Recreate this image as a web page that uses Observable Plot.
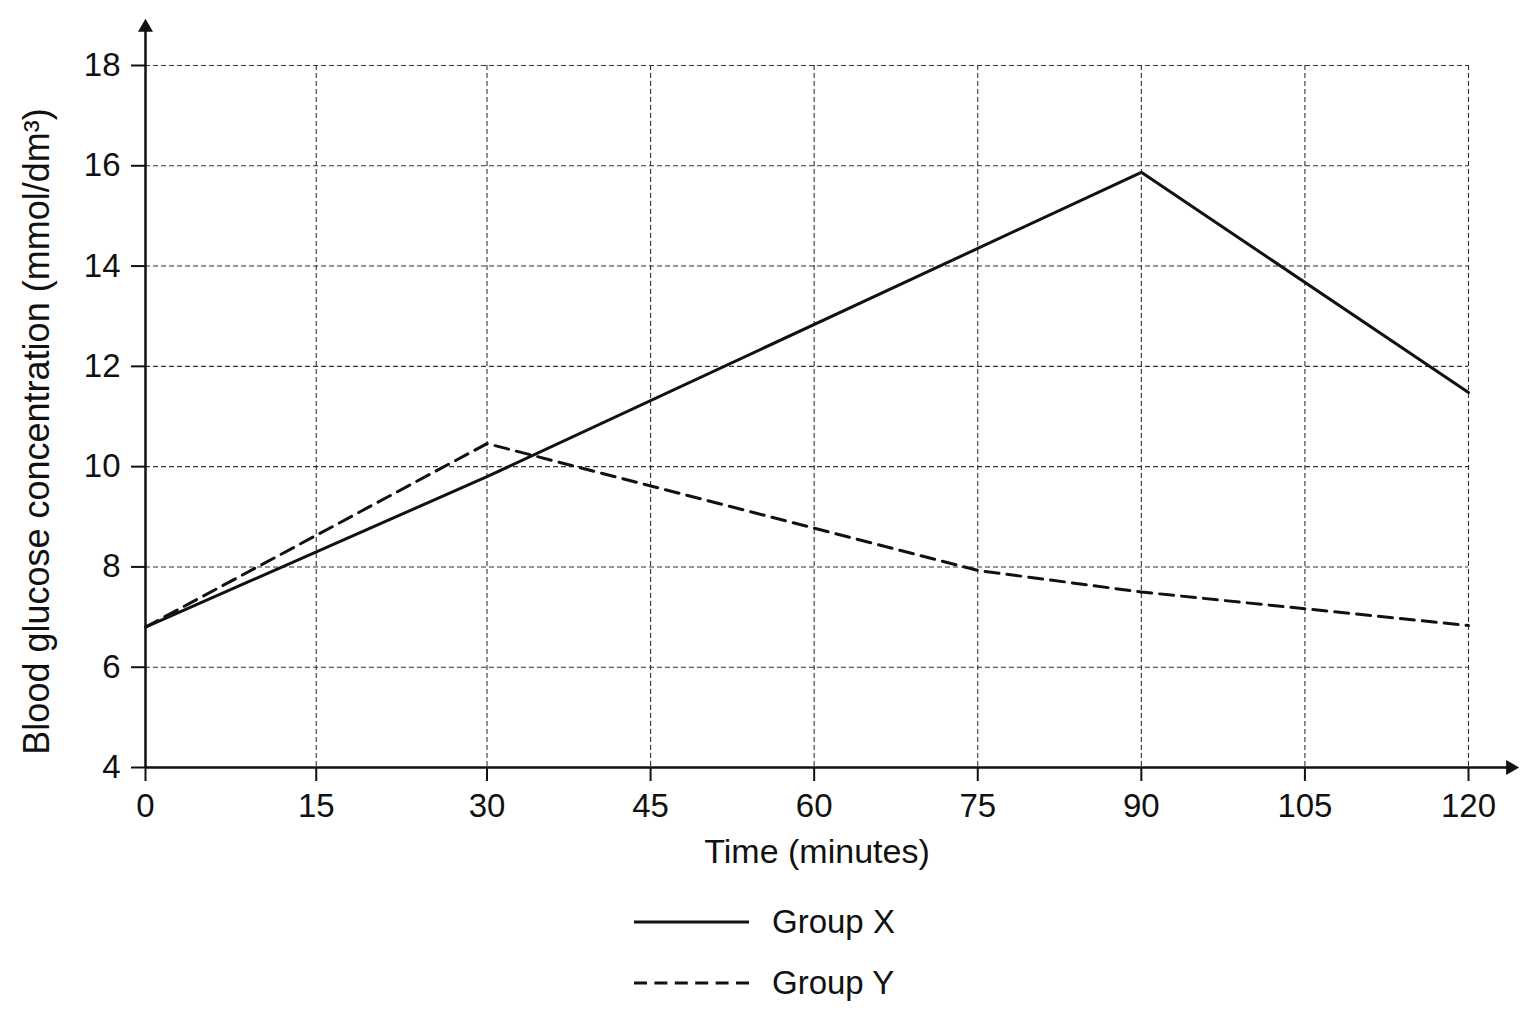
<!DOCTYPE html>
<html><head><meta charset="utf-8">
<script src="https://cdn.jsdelivr.net/npm/d3@7"></script>
<script src="https://cdn.jsdelivr.net/npm/@observablehq/plot@0.6"></script>
<style>
body{margin:0;background:#fff;font-family:"Liberation Sans",Arial,sans-serif;}
#chart{position:relative;width:1536px;height:1024px;background:#fff;}
#chart > svg{position:absolute;left:0;top:0;}
#legend{position:absolute;left:634px;top:891px;}
.row{display:flex;align-items:center;height:61px;font-size:33px;color:#111;}
.row svg{margin-right:23px;display:block}
</style></head><body>
<div id="chart"><div id="legend"></div></div>
<script>
// Data
const timesX = [0, 30, 90, 120];
const glucoseX = [6.8, 9.8, 15.87, 11.48];
const timesY = [0, 30, 75, 90, 120];
const glucoseY = [6.8, 10.46, 7.93, 7.5, 6.83];

const xTicks = [0, 15, 30, 45, 60, 75, 90, 105, 120];
const yTicks = [4, 6, 8, 10, 12, 14, 16, 18];
const xLabel = "Time (minutes)";
const yLabel = "Blood glucose concentration (mmol/dm³)";
const seriesNames = ["Group X", "Group Y"];
const xAxisEnd = 123.85;   // arrow extends past the last tick
const yAxisEnd = 18.76;

const dataX = timesX.map((t, i) => ({time: t, glucose: glucoseX[i]}));
const dataY = timesY.map((t, i) => ({time: t, glucose: glucoseY[i]}));

const font = '"Liberation Sans", Arial, sans-serif';

// The reference's time axis is drawn slightly wider for 0–30 than for 30–120
const xScaleDomain = [0, 30, 120];
const xScaleRange = [145, 486.5, 1468];

const chart = Plot.plot({
  width: 1536,
  height: 880,
  marginLeft: 145,
  marginRight: 68,
  marginTop: 65,
  marginBottom: 113,
  x: {type: "linear", domain: xScaleDomain, range: xScaleRange},
  y: {domain: [4, 18]},
  style: {fontFamily: font, fontSize: "33px", color: "#111", background: "white"},
  marks: [
    Plot.gridX(xTicks.slice(1), {stroke: "#333", strokeOpacity: 1, strokeWidth: 1.1, strokeDasharray: "5,3"}),
    Plot.gridY(yTicks.slice(1), {stroke: "#333", strokeOpacity: 1, strokeWidth: 1.1, strokeDasharray: "5,3"}),
    Plot.axisX(xTicks, {tickSize: 14, tickPadding: 12, strokeWidth: 2, label: null, fontSize: 33, tickFormat: d3.format("d")}),
    Plot.axisY(yTicks, {tickSize: 14, tickPadding: 11, strokeWidth: 2, label: null, fontSize: 33, tickFormat: d3.format("d")}),
    Plot.ruleY([4], {x1: 0, x2: xAxisEnd, stroke: "#111", strokeWidth: 2.5}),
    Plot.ruleX([0], {y1: 4, y2: yAxisEnd, stroke: "#111", strokeWidth: 2.5}),
    Plot.dot([{x: xAxisEnd, y: 4}], {x: "x", y: "y", symbol: "triangle", rotate: 90, r: 5.6, fill: "#111", stroke: null}),
    Plot.dot([{x: 0, y: yAxisEnd}], {x: "x", y: "y", symbol: "triangle", rotate: 0, r: 5.6, fill: "#111", stroke: null}),
    Plot.line(dataX, {x: "time", y: "glucose", stroke: "#111", strokeWidth: 3}),
    Plot.line(dataY, {x: "time", y: "glucose", stroke: "#111", strokeWidth: 3, strokeDasharray: "14,8"}),
    Plot.text([xLabel], {frameAnchor: "bottom", dy: 85, dx: 10, lineAnchor: "middle", fontSize: 34, fill: "#111"}),
    Plot.text([yLabel], {frameAnchor: "left", dx: -108, dy: 15, rotate: -90, lineAnchor: "middle", textAnchor: "middle", fontSize: 36, fill: "#111"})
  ]
});
document.getElementById("chart").prepend(chart);

// Legend below the chart
const legend = d3.select("#legend");
seriesNames.forEach((name, i) => {
  const row = legend.append("div").attr("class", "row");
  const s = row.append("svg").attr("width", 115).attr("height", 10);
  s.append("line").attr("x1", 0).attr("x2", 115).attr("y1", 5).attr("y2", 5)
    .attr("stroke", "#111").attr("stroke-width", 3)
    .attr("stroke-dasharray", i === 0 ? null : "13,7.4");
  row.append("span").text(name);
});
</script>
</body></html>
